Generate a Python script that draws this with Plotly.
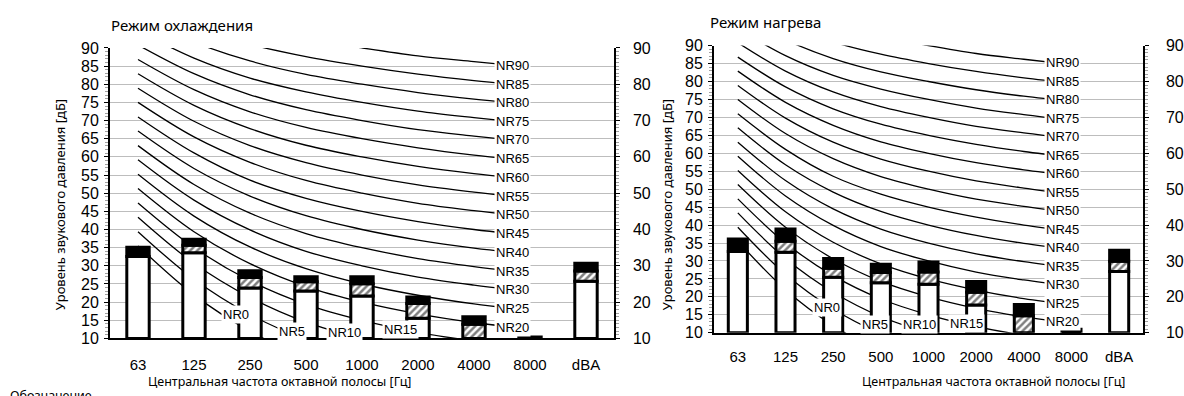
import plotly.graph_objects as go

W, H = 1184, 396

categories = ["63", "125", "250", "500", "1000", "2000", "4000", "8000", "dBA"]
nr_bands = ["63", "125", "250", "500", "1000", "2000", "4000", "8000"]

nr_levels = [0, 5, 10, 15, 20, 25, 30, 35, 40, 45, 50, 55, 60, 65, 70, 75, 80, 85, 90]
nr_curve_values = [
    [35.5, 22.0, 12.0, 4.8, 0.0, -3.5, -6.1, -8.0],
    [39.4, 26.3, 16.6, 9.7, 5.0, 1.6, -1.0, -2.8],
    [43.4, 30.7, 21.3, 14.5, 10.0, 6.6, 4.2, 2.3],
    [47.3, 35.0, 25.9, 19.4, 15.0, 11.7, 9.3, 7.4],
    [51.3, 39.4, 30.6, 24.3, 20.0, 16.8, 14.4, 12.6],
    [55.2, 43.7, 35.2, 29.2, 25.0, 21.9, 19.5, 17.7],
    [59.2, 48.1, 39.9, 34.0, 30.0, 26.9, 24.7, 22.9],
    [63.1, 52.4, 44.5, 38.9, 35.0, 32.0, 29.8, 28.0],
    [67.1, 56.8, 49.2, 43.8, 40.0, 37.1, 34.9, 33.2],
    [71.0, 61.1, 53.6, 48.6, 45.0, 42.2, 40.0, 38.3],
    [75.0, 65.5, 58.5, 53.5, 50.0, 47.2, 45.2, 43.5],
    [78.9, 69.8, 63.1, 58.4, 55.0, 52.3, 50.3, 48.6],
    [82.9, 74.2, 67.8, 63.2, 60.0, 57.4, 55.4, 53.8],
    [86.8, 78.5, 72.4, 68.1, 65.0, 62.5, 60.5, 58.9],
    [90.8, 82.9, 77.1, 73.0, 70.0, 67.5, 65.7, 64.1],
    [94.7, 87.2, 81.7, 77.9, 75.0, 72.6, 70.8, 69.2],
    [98.7, 91.6, 86.4, 82.7, 80.0, 77.7, 75.9, 74.4],
    [102.6, 95.9, 91.0, 87.6, 85.0, 82.8, 81.0, 79.5],
    [106.6, 100.3, 95.7, 92.5, 90.0, 87.8, 86.2, 84.7],
]

# Cooling mode (left chart): top of white part, top of hatched part, total
cool_white_top = [32.6, 33.6, 23.9, 23.05, 21.7, 15.6, 10.0, 10.0, 25.75]
cool_hatch_top = [32.6, 35.7, 26.8, 25.6, 25.1, 19.6, 13.9, 10.0, 28.6]
cool_total = [35.1, 37.3, 28.65, 27.0, 27.0, 21.4, 16.0, 10.4, 30.7]

# Heating mode (right chart)
heat_white_top = [32.6, 32.45, 25.45, 23.9, 23.5, 17.7, 10.0, 10.0, 27.05]
heat_hatch_top = [32.6, 35.5, 28.0, 26.8, 26.9, 21.3, 14.7, 10.0, 29.9]
heat_total = [36.1, 38.9, 30.7, 29.1, 29.7, 24.3, 17.9, 11.0, 33.0]

# Low NR labels (NR0..NR15) placement: band index and level
low_label_levels = [0, 5, 10, 15]
low_label_band = [2, 3, 4, 5]
cool_low_label_y = [16.6, 11.8, 11.6, 12.4]
heat_low_label_y = [17.0, 12.2, 12.2, 12.7]

y_floor = 10
y_top = 90

pos = list(range(len(categories)))
nr_pos = list(range(len(nr_bands)))

TICKFONT = "Liberation Sans, Arial, sans-serif"
TEXTFONT = "Noto Sans, Open Sans, sans-serif"


def px_x(p):
    return p / W


def px_y(p):
    return 1 - p / H


fig = go.Figure()


def add_chart(xa, ya, xb, yb, white_top, hatch_top, total):
    for vals in nr_curve_values:
        fig.add_trace(go.Scatter(
            x=nr_pos, y=vals, mode="lines",
            line=dict(color="black", width=1.3, shape="spline", smoothing=1.0),
            xaxis=xa, yaxis=ya, showlegend=False, hoverinfo="skip"))
    fig.add_trace(go.Bar(
        x=pos, base=[y_floor] * len(pos), y=[w - y_floor for w in white_top],
        width=0.4, marker=dict(color="white", line=dict(color="black", width=3)),
        xaxis=xb, yaxis=yb, showlegend=False))
    fig.add_trace(go.Bar(
        x=pos, base=white_top, y=[h - w for h, w in zip(hatch_top, white_top)],
        width=0.4,
        marker=dict(color="white",
                    pattern=dict(shape="/", fgcolor="black", bgcolor="white",
                                 size=5, solidity=0.5),
                    line=dict(color="black", width=3)),
        xaxis=xb, yaxis=yb, showlegend=False))
    fig.add_trace(go.Bar(
        x=pos, base=hatch_top, y=[t - h for t, h in zip(total, hatch_top)],
        width=0.4, marker=dict(color="black", line=dict(color="black", width=3)),
        xaxis=xb, yaxis=yb, showlegend=False))


add_chart("x", "y", "x2", "y2", cool_white_top, cool_hatch_top, cool_total)
add_chart("x3", "y3", "x4", "y4", heat_white_top, heat_hatch_top, heat_total)

left_dom_x = [px_x(110), px_x(614)]
left_dom_y = [px_y(345.3), px_y(41.7)]
right_dom_x = [px_x(714), px_x(1143)]
right_dom_y = [px_y(339.3), px_y(39.3)]


def base_x(domain, anchor, standoff):
    return dict(domain=domain, anchor=anchor, range=[-0.5, len(categories) - 0.5],
                tickmode="array", tickvals=pos, ticktext=categories,
                showline=True, linecolor="black", linewidth=2, ticks="",
                ticklabelstandoff=standoff, showgrid=False, zeroline=False,
                tickfont=dict(family=TICKFONT, size=15, color="black"))


def base_y(domain, anchor):
    return dict(domain=domain, anchor=anchor, range=[y_floor, y_top],
                tick0=10, dtick=5, showgrid=True, gridcolor="#bdbdbd", gridwidth=1,
                showline=True, linecolor="black", linewidth=2,
                ticks="outside", ticklen=4, tickcolor="black",
                minor=dict(dtick=1, ticks="outside", ticklen=3, tickcolor="#a0a0a0",
                           showgrid=False),
                zeroline=False, ticklabelstandoff=2,
                tickfont=dict(family=TICKFONT, size=16, color="black"))


def over_x(over, anchor):
    return dict(overlaying=over, anchor=anchor, range=[-0.5, len(categories) - 0.5],
                visible=False)


def over_y(over, anchor, standoff):
    return dict(overlaying=over, anchor=anchor, side="right", range=[y_floor, y_top],
                tick0=10, dtick=10, showgrid=False, showline=True, linecolor="black",
                linewidth=1.5, ticks="outside", ticklen=4, tickcolor="black",
                minor=dict(dtick=1, ticks="outside", ticklen=3, tickcolor="#a0a0a0"),
                zeroline=False, ticklabelstandoff=standoff,
                tickfont=dict(family=TICKFONT, size=16, color="black"))


annotations = []


def nr_labels(xref, yref, low_y, xshift):
    for lvl, vals in zip(nr_levels, nr_curve_values):
        if lvl < 20:
            continue
        annotations.append(dict(
            x=nr_pos[-1], y=vals[-1], xref=xref, yref=yref, text=f"NR{lvl}",
            showarrow=False, xanchor="right", yanchor="middle", xshift=xshift, yshift=2,
            bgcolor="white", borderpad=1,
            font=dict(family=TICKFONT, size=13, color="black")))
    for lvl, b, yy in zip(low_label_levels, low_label_band, low_y):
        annotations.append(dict(
            x=b, y=yy, xref=xref, yref=yref, text=f"NR{lvl}",
            showarrow=False, xanchor="right", yanchor="middle", xshift=xshift,
            bgcolor="white", borderpad=1,
            font=dict(family=TICKFONT, size=13, color="black")))


nr_labels("x", "y", cool_low_label_y, 1)
nr_labels("x3", "y3", heat_low_label_y, 9)


def text_ann(txt, x, y, size, xanchor="center", yanchor="middle", angle=0):
    annotations.append(dict(
        text=txt, x=px_x(x), y=px_y(y), xref="paper", yref="paper", showarrow=False,
        xanchor=xanchor, yanchor=yanchor, textangle=angle,
        font=dict(family=TEXTFONT, size=size, color="black")))


text_ann("Режим охлаждения", 182, 18, 15)
text_ann("Режим нагрева", 765, 15, 15)
text_ann("Центральная частота октавной полосы [Гц]", 279, 390, 12.5)
text_ann("Центральная частота октавной полосы [Гц]", 993, 390, 12.5)
text_ann("Уровень звукового давления [дБ]", 60, 206, 13, angle=-90)
text_ann("Уровень звукового давления [дБ]", 667, 206, 13, angle=-90)
text_ann("Обозначение", 8, 394, 12.5, xanchor="left", yanchor="top")

fig.update_layout(
    width=W, height=H, margin=dict(l=0, r=0, t=0, b=0),
    paper_bgcolor="white", plot_bgcolor="white",
    barmode="overlay", showlegend=False,
    xaxis=base_x(left_dom_x, "y", 12),
    yaxis=base_y(left_dom_y, "x"),
    xaxis2=over_x("x", "y2"),
    yaxis2=over_y("y", "x2", 10),
    xaxis3=base_x(right_dom_x, "y3", 9),
    yaxis3=base_y(right_dom_y, "x3"),
    xaxis4=over_x("x3", "y4"),
    yaxis4=over_y("y3", "x4", 14),
    annotations=annotations,
)

fig.write_html("out.html")
